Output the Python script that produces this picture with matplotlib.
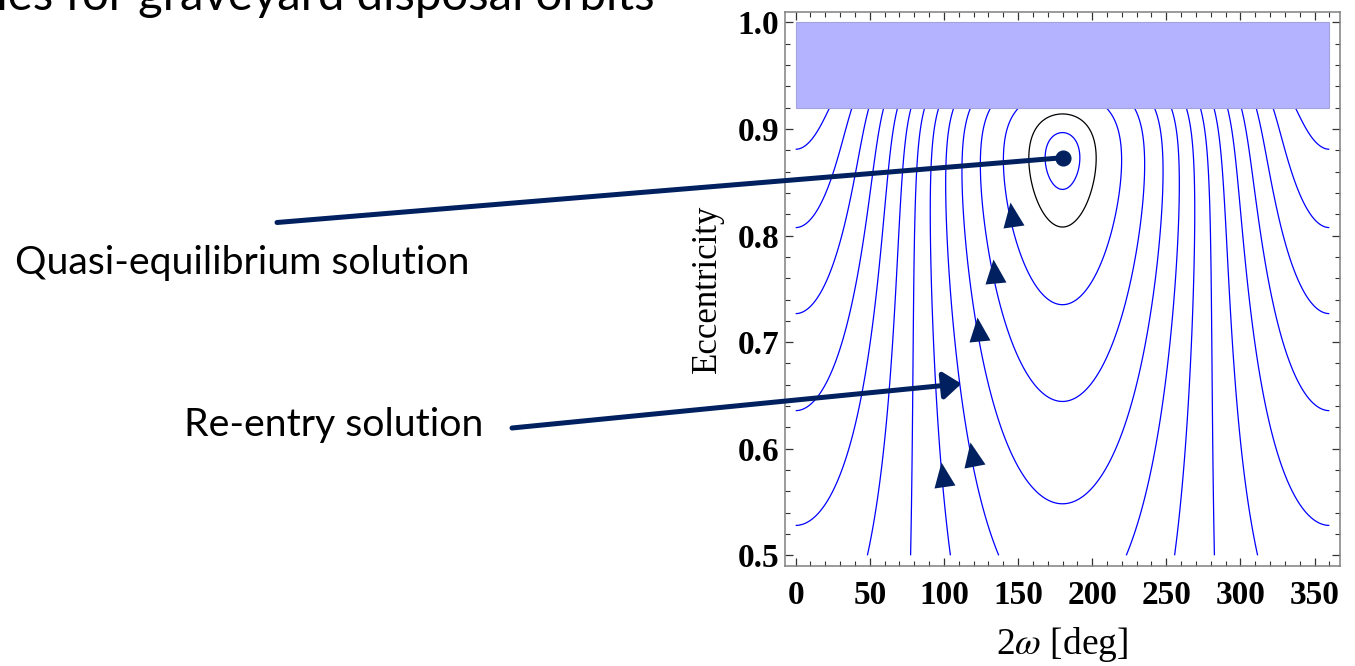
import numpy as np
import matplotlib
matplotlib.use('Agg')
import matplotlib.pyplot as plt
from matplotlib.markers import MarkerStyle
from matplotlib.patches import Rectangle
from matplotlib.transforms import Affine2D

plt.rcParams['font.family'] = 'Liberation Serif'
plt.rcParams['mathtext.fontset'] = 'stix'

NAVY = '#002060'
W, H = 1355, 666

# --- contour crossings (levels are equally spaced, index k) ---
# along the re-entry boundary e = 0.92
top_e = 0.92
top_phi = [23.2, 37.7, 49.3, 59.4, 68.7, 77.95, 87.2, 96.55, 106.7, 118.35, 131.85, 149.9]
top_lev = [-5, -4, -3, -2, -1, 0, 1, 2, 3, 4, 5, 6]
# along the bottom of the plot e = 0.5
bottom_e = 0.5
bottom_phi = [48.6, 77.5, 104.2, 136.6]
bottom_lev = [0, 1, 2, 3]
# where curves meet 2w = 0
edge_e = [0.875, 0.805, 0.726, 0.636, 0.526]
edge_lev = [-5, -4, -3, -2, -1]
# where curves cross 2w = 180
mid_e = [0.546, 0.641, 0.732, 0.840, 0.9005]
mid_lev = [4, 5, 6, 7, 7]
# two intermediate rows
row1_e = 0.858
row1_phi = [25.0, 39.7, 51.0, 62.3, 72.0, 81.5]
row1_lev = [-4, -3, -2, -1, 0, 1]
row2_e = 0.6515
row2_phi = [14.9, 44.2, 62.3, 78.8]
row2_lev = [-2, -1, 0, 1]

# direction markers (sit on curves 6..2)
tri_phi = [145.6, 133.6, 122.9, 119.0, 99.6]
tri_e = [0.8206, 0.767, 0.712, 0.595, 0.576]
tri_lev = [6, 5, 4, 3, 2]
tri_tilt = [8, 7, 7, 11, 8]

# quasi-equilibrium point, black separatrix, re-entry band
eq_phi, eq_e = 180.0, 0.873
sep_e = 0.808
reentry_lo, reentry_hi = 0.92, 1.0
reentry_arrow = (111.8, 0.661)

x_ticks = [0, 50, 100, 150, 200, 250, 300, 350]
y_ticks = [0.5, 0.6, 0.7, 0.8, 0.9, 1.0]


def basis(phi, e):
    phi = np.radians(np.asarray(phi, float))
    e = np.asarray(e, float)
    c1, c2 = np.cos(phi), np.cos(2 * phi)
    s = 1 - e**2
    cols = [np.ones_like(e), e**2, s**-0.5, s**-1.5,
            e**2 * c1, e**4 * c1, e**2 / s * c1,
            e**4 * c2, e**4 / s * c2]
    return np.stack(np.broadcast_arrays(*cols), axis=-1)


# least-squares fit of a smooth Hamiltonian-like field to the crossings
pts_phi, pts_e, pts_k = [], [], []
def add(phis, es, ks):
    phis, es = np.broadcast_arrays(np.asarray(phis, float), np.asarray(es, float))
    pts_phi.extend(phis); pts_e.extend(es); pts_k.extend(ks)

add(top_phi, top_e, top_lev)
add(bottom_phi, bottom_e, bottom_lev)
add(0.0, edge_e, edge_lev)
add(180.0, mid_e, mid_lev)
add(row1_phi, row1_e, row1_lev)
add(row2_phi, row2_e, row2_lev)
add(tri_phi, tri_e, tri_lev)

A = basis(pts_phi, pts_e)
b = np.array(pts_k, float)
h = 1e-4
deriv = (basis(180.0, eq_e + h) - basis(180.0, eq_e - h)) / (2 * h)
A = np.vstack([A, 0.3 * deriv[None, :]])
b = np.append(b, 0.0)
coef, *_ = np.linalg.lstsq(A, b, rcond=None)

phi_g = np.linspace(0, 360, 721)
e_g = np.linspace(bottom_e, top_e, 421)
P, E = np.meshgrid(phi_g, e_g)
Z = basis(P, E) @ coef
sep_level = float(basis(180.0, sep_e) @ coef)

fig = plt.figure(figsize=(W / 100, H / 100), dpi=100)
ax = fig.add_axes([785 / W, 1 - 566 / H, 555 / W, 554.3 / H])
ax.set_xlim(-7.2, 367.2)
ax.set_ylim(0.49, 1.01)

ax.contour(P, E, Z, levels=np.arange(-5, 8), colors='#0000ff', linewidths=0.9,
           negative_linestyles='solid')
ax.contour(P, E, Z, levels=[sep_level], colors='black', linewidths=0.9)

ax.add_patch(Rectangle((0, reentry_lo), 360, reentry_hi - reentry_lo,
                       fc='#b3b3ff', ec='#a3a3e0', lw=0.8, zorder=3))

for x, y, t in zip(tri_phi, tri_e, tri_tilt):
    m = MarkerStyle('^', transform=Affine2D().scale(0.87, 1).rotate_deg(t))
    ax.plot(x, y, marker=m, ms=17.5, color=NAVY, mec='none', ls='none', zorder=6)

# annotations
ax.annotate('', xy=(eq_phi, eq_e), xycoords='data',
            xytext=(277, H - 222.5), textcoords='figure pixels',
            arrowprops=dict(arrowstyle='-', color=NAVY, lw=3.6,
                            shrinkA=0, shrinkB=0),
            annotation_clip=False, zorder=7)
ax.plot(eq_phi, eq_e, 'o', ms=10.6, color=NAVY, zorder=8)
ax.annotate('', xy=reentry_arrow, xycoords='data',
            xytext=(512, H - 428), textcoords='figure pixels',
            arrowprops=dict(arrowstyle='-|>,head_length=0.54,head_width=0.41',
                            mutation_scale=20, color=NAVY, lw=3.6,
                            shrinkA=0, shrinkB=0),
            annotation_clip=False, zorder=7)

fig.text(15 / W, 1 - 274 / H, 'Quasi-equilibrium solution', family='Lato',
         fontsize=28.3, va='baseline', ha='left')
fig.text(184 / W, 1 - 436 / H, 'Re-entry solution', family='Lato',
         fontsize=28.3, va='baseline', ha='left')
# slide title, cut by the top edge as in the source
fig.text(655 / W, 1 - 10 / H, 'Trajectories for graveyard disposal orbits',
         family='Lato', fontsize=34, va='baseline', ha='right')

# frame
ax.set_xticks(x_ticks)
ax.set_xticks(np.arange(0, 361, 10), minor=True)
ax.set_yticks(y_ticks)
ax.set_yticks(np.arange(0.5, 1.001, 0.02), minor=True)
ax.set_xticklabels([str(v) for v in x_ticks])
ax.set_yticklabels([f'{v:.1f}' for v in y_ticks])
ax.tick_params(which='both', direction='in', top=True, right=True, color='#333333')
ax.tick_params(which='major', length=6, width=0.9)
ax.tick_params(which='minor', length=3.5, width=0.8)
ax.tick_params(axis='x', pad=10)
ax.tick_params(axis='y', pad=4)
for lab in ax.get_xticklabels() + ax.get_yticklabels():
    lab.set_fontsize(24)
    lab.set_fontweight('bold')
for sp in ax.spines.values():
    sp.set_color('#808080')
    sp.set_linewidth(1.1)

ax.set_xlabel(r'2$\omega$ [deg]', fontsize=27, labelpad=10)
ax.set_ylabel('Eccentricity', fontsize=25, labelpad=10)

fig.savefig('out.png', dpi=100)
